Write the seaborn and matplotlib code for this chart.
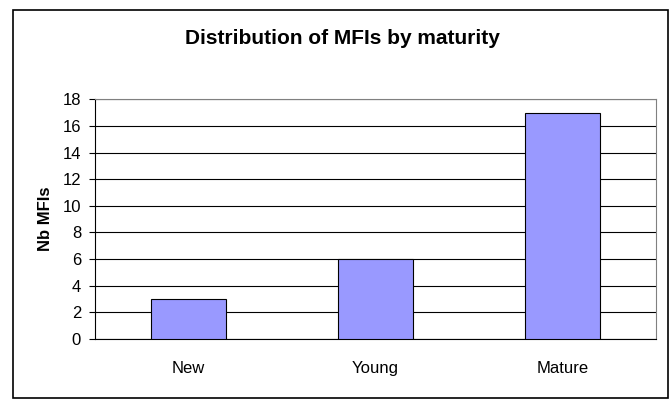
import matplotlib
matplotlib.use("Agg")
import matplotlib.pyplot as plt
from matplotlib.patches import Rectangle
import seaborn as sns
import pandas as pd

categories = ["New", "Young", "Mature"]
counts = [3, 6, 17]
y_ticks = [0, 2, 4, 6, 8, 10, 12, 14, 16, 18]

sns.set_theme(style="white")
plt.rcParams["font.family"] = ["Liberation Sans", "DejaVu Sans"]
plt.rcParams["text.color"] = "black"
plt.rcParams["axes.labelcolor"] = "black"
plt.rcParams["xtick.color"] = "black"
plt.rcParams["ytick.color"] = "black"

df = pd.DataFrame({"maturity": categories, "count": counts})

W, H = 672, 399
fig = plt.figure(figsize=(W / 100, H / 100), dpi=100)
fig.patch.set_facecolor("white")

# outer chart frame
fig.patches.append(Rectangle((13 / W, 1 - 398 / H), (668 - 13) / W, (398 - 10) / H,
                             transform=fig.transFigure, fill=False, edgecolor="black",
                             linewidth=1.2, zorder=0))

ax = fig.add_axes([95 / W, 1 - 339 / H, (656 - 95) / W, (339 - 99.3) / H])
sns.barplot(data=df, x="maturity", y="count", ax=ax, color="#9999FF",
            saturation=1, width=0.4, edgecolor="black", linewidth=0.8, zorder=3)

ax.set_ylim(0, 18)
ax.set_xlim(-0.5, 2.5)
ax.set_yticks(y_ticks)
ax.set_yticklabels([str(v) for v in y_ticks], fontsize=12)
ax.yaxis.grid(True, color="black", linewidth=0.8)
ax.set_axisbelow(True)

ax.set_xticks([-0.5, 0.5, 1.5, 2.5], minor=False)
ax.set_xticklabels([])
ax.set_xticks([0, 1, 2], minor=True)
ax.set_xticklabels(categories, minor=True, fontsize=12)
ax.tick_params(axis="x", which="minor", length=0, pad=16)
ax.tick_params(axis="x", which="major", length=4.5, width=0.8, direction="out")
ax.tick_params(axis="y", length=4.5, width=0.8, direction="out", pad=5.5, left=True)

for side in ["top", "right"]:
    ax.spines[side].set_color("#808080")
    ax.spines[side].set_linewidth(0.8)
for side in ["left", "bottom"]:
    ax.spines[side].set_color("black")
    ax.spines[side].set_linewidth(0.8)

ax.set_xlabel("")
ax.set_ylabel("Nb MFIs", fontsize=12, fontweight="bold", labelpad=7)

fig.text(342 / W, 1 - 39 / H, "Distribution of MFIs by maturity",
         ha="center", va="center", fontsize=15, fontweight="bold")

fig.savefig("out.png", dpi=100)
